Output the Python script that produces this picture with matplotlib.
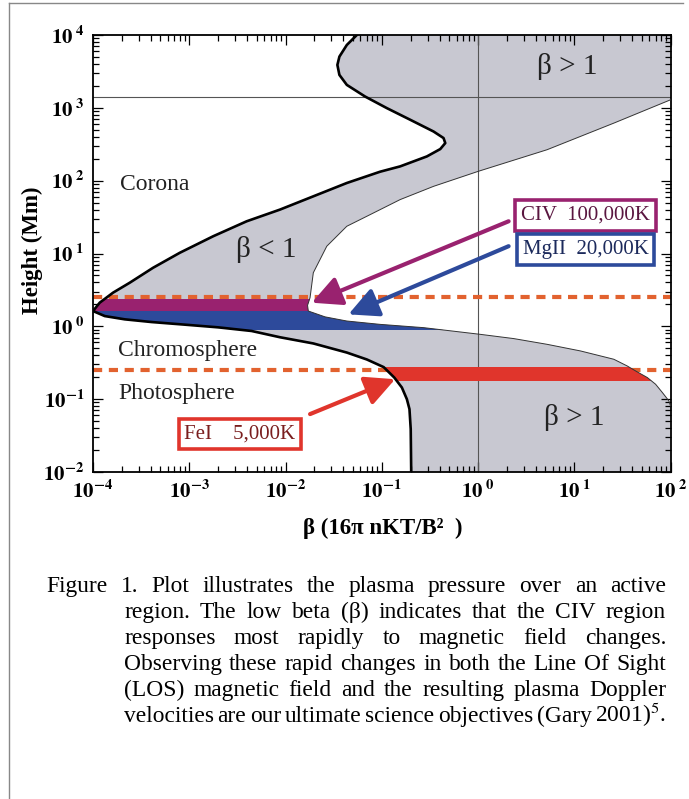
import numpy as np
import matplotlib
matplotlib.use('Agg')
import matplotlib.pyplot as plt
from matplotlib.lines import Line2D
from matplotlib.ticker import NullFormatter

plt.rcParams['font.family'] = ['Liberation Serif', 'DejaVu Serif']
plt.rcParams['mathtext.fontset'] = 'stix'

# thick boundary curve, log10(beta) and log10(height/Mm), read top to bottom
edge_lb = [-1.259, -1.363, -1.440, -1.461, -1.440, -1.363, -1.173, -0.947, -0.704,
           -0.462, -0.358, -0.340, -0.392, -0.531, -0.809, -1.017, -1.363, -1.711,
           -2.057, -2.404, -2.751, -3.098, -3.376, -3.618, -3.792, -3.930, -4.000,
           -3.878, -3.670, -3.392, -3.046, -2.699, -2.352, -2.057, -1.711, -1.363,
           -1.155, -0.980, -0.870, -0.791, -0.739, -0.712, -0.699, -0.694]
edge_lh = [4.000, 3.863, 3.703, 3.589, 3.452, 3.315, 3.155, 2.996, 2.836,
           2.675, 2.585, 2.516, 2.434, 2.333, 2.196, 2.123, 1.968, 1.785,
           1.603, 1.442, 1.237, 1.010, 0.804, 0.599, 0.462, 0.325, 0.210,
           0.141, 0.096, 0.059, 0.023, -0.014, -0.064, -0.150, -0.235, -0.360,
           -0.455, -0.560, -0.703, -0.840, -1.000, -1.137, -1.411, -2.000]

# thin edge of the beta > 1 region, from the right axis (top) round to the right axis (bottom)
thin_lb = [2.000, 1.411, 0.718, 0.000, -0.462, -0.809, -1.155, -1.363, -1.571, -1.711,
           -1.745, -1.771, -1.763, -1.589, -1.363, -1.017, -0.566, 0.024, 0.370, 0.718,
           1.065, 1.411, 1.550, 1.655, 1.759, 1.845, 1.915, 1.983, 2.000]
thin_lh = [3.110, 2.790, 2.425, 2.127, 1.922, 1.740, 1.511, 1.374, 1.100, 0.736,
           0.393, 0.288, 0.210, 0.130, 0.073, 0.027, -0.018, -0.110, -0.168, -0.247,
           -0.338, -0.452, -0.544, -0.626, -0.703, -0.795, -0.908, -1.023, -1.092]

# spectral line formation heights (Mm)
band_names = ['CIV  100,000K', 'MgII  20,000K', 'FeI    5,000K']
band_lo = [1.62, 0.90, 0.178]
band_hi = [2.35, 1.62, 0.28]
band_colors = ['#99226f', '#2d4a9b', '#e0352c']
text_colors = ['#5a1640', '#1c2a5c', '#7a1e1e']
# label box (beta, height) and arrow tip (beta, height)
box_pos = [(13.1, 33.4), (13.1, 11.35), (0.00336, 0.0332)]
arrow_from = [(2.08, 27.7), (2.08, 12.6), (0.018, 0.0624)]
arrow_to = [(0.01875, 2.11), (0.0451, 1.46), (0.1377, 0.188)]

dash_heights = [2.5, 0.25]
ref_beta = 1.0
ref_height = 1.43e3

region_text = ['Corona', 'Chromosphere', 'Photosphere']
region_pos = [(1.9e-4, 88), (1.82e-4, 0.459), (1.82e-4, 0.12)]
beta_text = ['\u03b2 > 1', '\u03b2 < 1', '\u03b2 > 1']
beta_pos = [(8.43, 3.68e3), (6.37e-3, 11.35), (9.9, 0.056)]

x_ticks = [1e-4, 1e-3, 1e-2, 1e-1, 1e0, 1e1, 1e2]
x_labels = [r'$\mathbf{10^{-4}}$', r'$\mathbf{10^{-3}}$', r'$\mathbf{10^{-2}}$', r'$\mathbf{10^{-1}}$',
            r'$\mathbf{10^{\ 0}}$', r'$\mathbf{10^{\ 1}}$', r'$\mathbf{10^{\ 2}}$']
y_ticks = [1e-2, 1e-1, 1e0, 1e1, 1e2, 1e3, 1e4]
y_labels = [r'$\mathbf{10^{-2}}$', r'$\mathbf{10^{-1}}$', r'$\mathbf{10^{\ 0}}$', r'$\mathbf{10^{\ 1}}$',
            r'$\mathbf{10^{\ 2}}$', r'$\mathbf{10^{\ 3}}$', r'$\mathbf{10^{\ 4}}$']

caption = ['Figure 1. Plot illustrates the plasma pressure over an active',
           'region. The low beta (\u03b2) indicates that the CIV region',
           'responses most rapidly to magnetic field changes.',
           'Observing these rapid changes in both the Line Of Sight',
           '(LOS) magnetic field and the resulting plasma Doppler',
           'velocities are our ultimate science objectives (Gary 2001)$^5$.']

W, H = 689, 799
fig = plt.figure(figsize=(W / 100, H / 100), dpi=100)
ax = fig.add_axes([93 / W, 1 - 472 / H, 577.5 / W, 437 / H])
ax.set_xscale('log')
ax.set_yscale('log')
ax.set_xlim(1e-4, 1e2)
ax.set_ylim(1e-2, 1e4)

gray = '#c8c8d1'
bx = 10 ** np.array(edge_lb)
by = 10 ** np.array(edge_lh)
tx = 10 ** np.array(thin_lb)
ty = 10 ** np.array(thin_lh)
px = np.concatenate([bx, [1e2], tx[::-1], [1e2]])
py = np.concatenate([by, [1e-2], ty[::-1], [1e4]])
region = ax.fill(px, py, color=gray, lw=0, zorder=1)[0]

ax.axvline(ref_beta, color='#555555', lw=0.8, zorder=2)
ax.axhline(ref_height, color='#555555', lw=0.8, zorder=2)
for hgt in dash_heights:
    ax.axhline(hgt, color='#e2622f', lw=3, ls=(0, (2.2, 1.6)), zorder=2)

for lo, hi, c in zip(band_lo, band_hi, band_colors):
    sp = ax.axhspan(lo, hi, color=c, lw=0, zorder=3)
    sp.set_clip_path(region)

ax.plot(tx, ty, color='#333333', lw=0.7, zorder=4)
ax.plot(bx, by, color='black', lw=1.9, zorder=4, solid_joinstyle='round')

for name, bp, a0, a1, c, tc in zip(band_names, box_pos, arrow_from, arrow_to, band_colors, text_colors):
    ax.annotate('', xy=a1, xytext=a0,
                arrowprops=dict(arrowstyle='-|>,head_length=0.9,head_width=0.45', lw=3,
                                color=c, shrinkA=0, shrinkB=0, mutation_scale=20), zorder=5)
    ax.text(bp[0], bp[1], name, ha='center', va='center', fontsize=15, color=tc, zorder=6,
            bbox=dict(boxstyle='square,pad=0.28', fc='white', ec=c, lw=2.6))

for t, p in zip(region_text, region_pos):
    ax.text(p[0], p[1], t, ha='left', va='center', fontsize=17, color='#222222', zorder=6)
for t, p in zip(beta_text, beta_pos):
    ax.text(p[0], p[1], t, ha='center', va='center', fontsize=21, color='#222222', zorder=6)

ax.set_xticks(x_ticks)
ax.set_xticklabels(x_labels)
ax.set_yticks(y_ticks)
ax.set_yticklabels(y_labels)
ax.xaxis.set_minor_formatter(NullFormatter())
ax.yaxis.set_minor_formatter(NullFormatter())
ax.tick_params(which='both', direction='in', top=True, right=True, labelsize=15, width=0.9)
ax.tick_params(which='major', length=7, pad=6)
ax.tick_params(which='minor', length=4)
for s in ax.spines.values():
    s.set_linewidth(1.3)

fig.text(32 / W, 1 - 250 / H, 'Height (Mm)', rotation=90, ha='center', va='center',
         fontsize=16.5, fontweight='bold')
fig.text(383 / W, 1 - 528 / H, '\u03b2 (16\u03c0 nKT/B\u00b2  )', ha='center', va='center',
         fontsize=16.5, fontweight='bold')

# justified caption
fig.canvas.draw()
r = fig.canvas.get_renderer()
base = 15
probe1 = fig.text(0, 0, caption[0], fontsize=base)
w1 = probe1.get_window_extent(r).width
probe1.remove()
last_words = [fig.text(0, 0, w, fontsize=base) for w in caption[-1].split(' ')]
w_last = sum(t.get_window_extent(r).width for t in last_words)
for t in last_words:
    t.remove()
size_a = base * 600 / w1
size_b = base * (540 - 3 * (len(last_words) - 1)) / w_last
cap_size = min(size_a, size_b)
for i, line in enumerate(caption):
    y = 1 - (592 + 26 * i) / H
    words = line.split(' ')
    ts = [fig.text(0, y, w, fontsize=cap_size, va='baseline', ha='left') for w in words]
    widths = [t.get_window_extent(r).width for t in ts]
    x0 = 46 if i == 0 else 124
    gap = (666 - x0 - sum(widths)) / (len(words) - 1)
    x = x0
    for t, w in zip(ts, widths):
        t.set_x(x / W)
        x += w + gap

fig.add_artist(Line2D([9 / W, 9 / W], [0, 1 - 3 / H], color='#888888', lw=1))
fig.add_artist(Line2D([9 / W, 683 / W], [1 - 3 / H, 1 - 3 / H], color='#888888', lw=1))

fig.savefig('out.png', dpi=100)
